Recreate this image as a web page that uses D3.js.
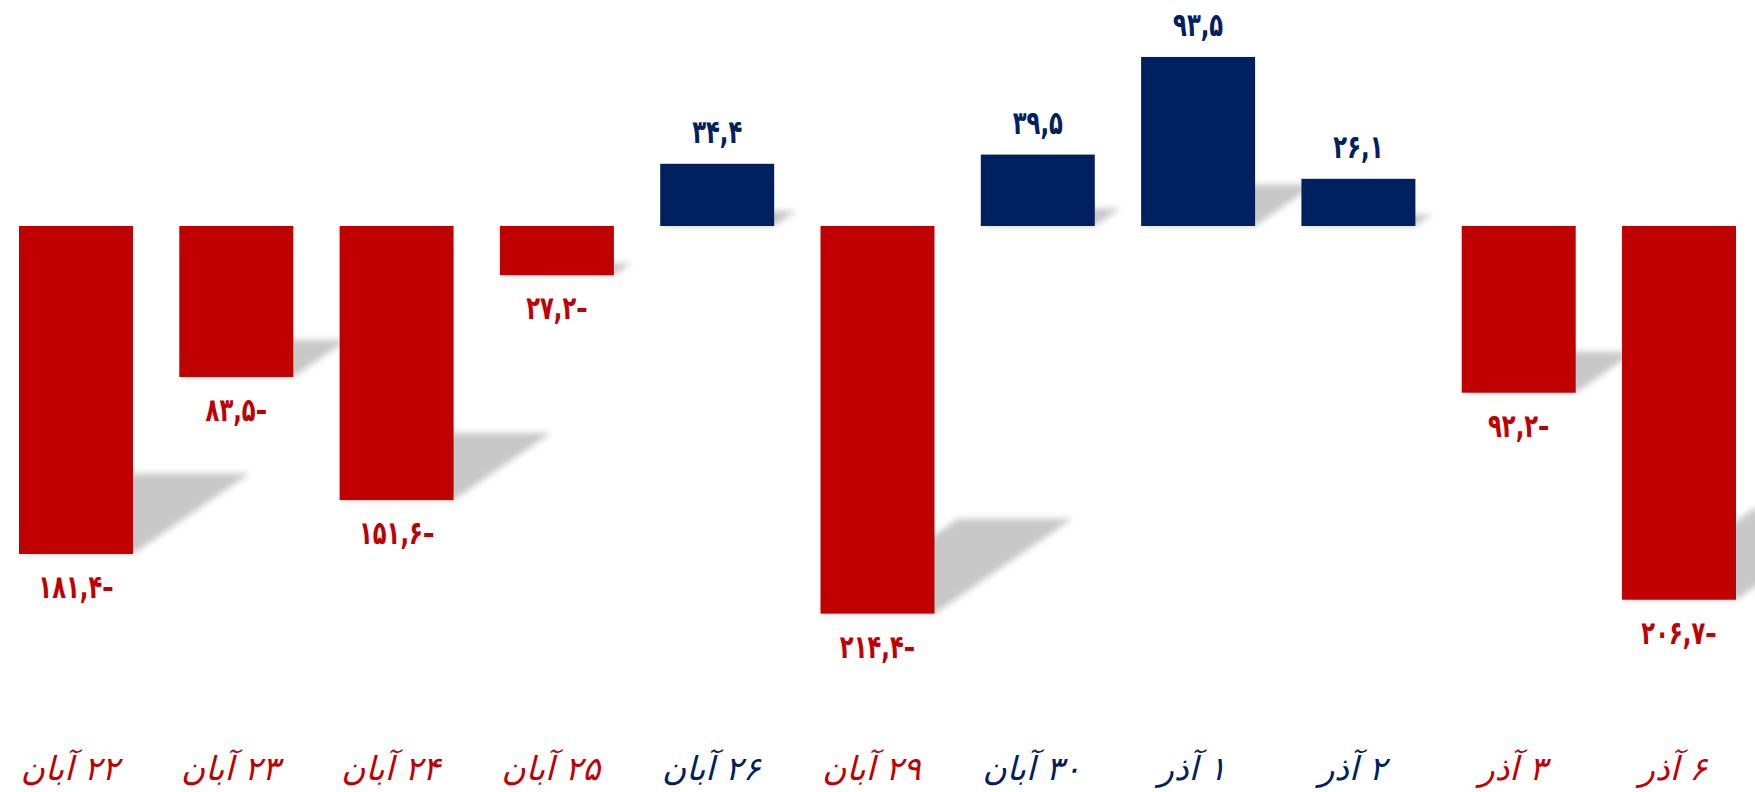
<!DOCTYPE html>
<html lang="fa">
<head>
<meta charset="utf-8">
<script src="https://cdn.jsdelivr.net/npm/d3@7"></script>
<style>
  html, body { margin: 0; padding: 0; background: #ffffff; }
  svg { display: block; }
</style>
</head>
<body>
<svg id="chart" width="1755" height="792"></svg>
<script>
// Daily net values (billion), Aban–Azar
const days = ["۲۲ آبان", "۲۳ آبان", "۲۴ آبان", "۲۵ آبان", "۲۶ آبان", "۲۹ آبان",
              "۳۰ آبان", "۱ آذر", "۲ آذر", "۳ آذر", "۶ آذر"];
const values = [-181.4, -83.5, -151.6, -27.2, 34.4, -214.4, 39.5, 93.5, 26.1, -92.2, -206.7];

const RED = "#c00000", BLUE = "#002060";

const svg = d3.select("#chart");

const x = d3.scaleBand()
  .domain(days)
  .range([19, 1736])
  .paddingInner(0.289)
  .paddingOuter(0);

const y = d3.scaleLinear()
  .domain([-250, 125])
  .range([678, 0]);

const colorOf = v => v < 0 ? RED : BLUE;

// Persian numerals, comma as decimal mark
const fa = d3.formatLocale({
  decimal: ",", thousands: "", grouping: [3], currency: ["", ""],
  numerals: ["۰", "۱", "۲", "۳", "۴", "۵", "۶", "۷", "۸", "۹"]
});
const fmt = fa.format(".1f");
const labelText = v => fmt(Math.abs(v)) + (v < 0 ? "–" : "");

const defs = svg.append("defs");
defs.append("filter")
  .attr("id", "soft")
  .attr("x", "-30%").attr("y", "-30%")
  .attr("width", "160%").attr("height", "160%")
  .append("feGaussianBlur").attr("stdDeviation", 3.2);

const rows = days.map((d, i) => ({ day: d, value: values[i] }));

// Perspective shadows cast from each bar's lower edge
svg.append("g")
  .attr("filter", "url(#soft)")
  .selectAll("path")
  .data(rows)
  .join("path")
  .attr("fill", "#c8c8c8")
  .attr("d", d => {
    const x0 = x(d.day), x1 = x0 + x.bandwidth();
    const yb = Math.max(y(0), y(d.value));
    const len = Math.abs(y(d.value) - y(0));
    const h = 0.245 * len, s = 1.45 * h;
    return `M${x0},${yb}L${x1},${yb}L${x1 + s},${yb - h}L${x0 + s},${yb - h}Z`;
  });

// Bars
svg.append("g")
  .selectAll("rect")
  .data(rows)
  .join("rect")
  .attr("x", d => x(d.day))
  .attr("width", x.bandwidth())
  .attr("y", d => Math.min(y(0), y(d.value)))
  .attr("height", d => Math.abs(y(d.value) - y(0)))
  .attr("fill", d => colorOf(d.value));

// Value labels (tall, condensed bold numerals)
svg.append("g")
  .selectAll("text")
  .data(rows)
  .join("text")
  .attr("transform", d => {
    const cx = x(d.day) + x.bandwidth() / 2;
    const cy = y(d.value) + (d.value < 0 ? 33 : -32);
    return `translate(${cx},${cy}) scale(0.84,1.2)`;
  })
  .attr("text-anchor", "middle")
  .attr("dominant-baseline", "central")
  .attr("font-family", "'DejaVu Sans', sans-serif")
  .attr("font-weight", "bold")
  .attr("font-size", 27)
  .attr("fill", d => colorOf(d.value))
  .text(d => labelText(d.value));

// Category axis (labels only)
const axis = svg.append("g")
  .attr("transform", "translate(0,780)")
  .call(d3.axisBottom(x).tickSize(0).tickPadding(0));
axis.select(".domain").remove();
axis.selectAll(".tick text")
  .attr("y", 0)
  .attr("dy", 0)
  .attr("direction", "rtl")
  .attr("text-anchor", "middle")
  .attr("transform", "translate(-6,0) skewX(-14)")
  .attr("font-family", "'DejaVu Sans', sans-serif")
  .attr("font-size", 33)
  .attr("fill", (d, i) => colorOf(values[i]));
</script>
</body>
</html>
